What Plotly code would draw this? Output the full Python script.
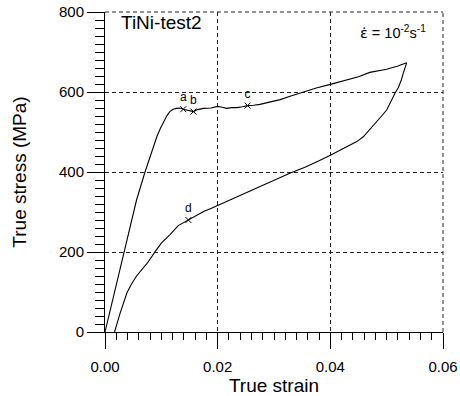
import plotly.graph_objects as go

# Loading branch (strain, stress MPa)
load_strain = [0.0, 0.0020, 0.0040, 0.0056, 0.0071, 0.0082, 0.0092, 0.0098, 0.0104, 0.0110,
               0.0115, 0.0121, 0.0127, 0.0133, 0.0139, 0.0146, 0.0152, 0.0157, 0.0164, 0.0175,
               0.0188, 0.0200, 0.0208, 0.0216, 0.0225, 0.0234, 0.0244, 0.0253, 0.0264, 0.0275,
               0.0290, 0.0311, 0.0330, 0.0351, 0.0375, 0.0400, 0.0425, 0.0450, 0.0470, 0.0500,
               0.0520, 0.05355]
load_stress = [0, 117, 234, 330, 400, 448, 488, 508, 526, 541,
               551, 557, 559, 560, 557, 554, 552, 551, 556, 559,
               560, 564, 562, 559, 561, 561, 563, 566, 567, 569,
               574, 581, 590, 600, 610, 619, 628, 638, 649, 657,
               665, 673]

# Unloading branch
unload_strain = [0.05355, 0.0532, 0.05295, 0.0526, 0.0521, 0.05148, 0.0508, 0.0500, 0.0491, 0.04823,
                 0.0470, 0.04585, 0.0447, 0.0435, 0.0420, 0.0400, 0.0380, 0.0355, 0.0328, 0.0300,
                 0.0275, 0.0250, 0.0225, 0.0200, 0.0188, 0.0175, 0.0160, 0.0148, 0.0140, 0.0130,
                 0.0115, 0.0100, 0.0089, 0.0075, 0.0056, 0.0047, 0.0039, 0.0033, 0.0027, 0.0022,
                 0.0017]
unload_stress = [673, 660, 647, 630, 612, 597, 576, 555, 540, 526,
                 507, 488, 476, 467, 455, 442, 428, 412, 397, 379,
                 364, 348, 332, 316, 309, 301, 290, 280, 275, 266,
                 243, 222, 201, 172, 140, 120, 98, 75, 48, 24,
                 0]

# Marked points
mark_labels = ["a", "b", "c", "d"]
mark_strain = [0.0139, 0.0157, 0.0253, 0.0148]
mark_stress = [557, 551, 566, 280]

X_RANGE = [0, 0.06]
Y_RANGE = [0, 800]

FONT = "Liberation Sans, Arial, sans-serif"
GRID = dict(color="#222", width=1, dash="4px,3px")

fig = go.Figure()
fig.add_trace(go.Scatter(x=load_strain, y=load_stress, mode="lines",
                         line=dict(color="black", width=1.1), showlegend=False))
fig.add_trace(go.Scatter(x=unload_strain, y=unload_stress, mode="lines",
                         line=dict(color="black", width=1.1), showlegend=False))
fig.add_trace(go.Scatter(x=mark_strain, y=mark_stress, mode="markers+text",
                         text=mark_labels, textposition="top center",
                         textfont=dict(family=FONT, size=12, color="black"),
                         marker=dict(symbol="x-thin", size=6, line=dict(color="black", width=1)),
                         showlegend=False))

axis_common = dict(
    showline=True, linecolor="black", linewidth=1,
    ticks="outside", tickcolor="black", tickwidth=1,
    showgrid=True, gridcolor=GRID["color"], gridwidth=1, griddash=GRID["dash"],
    zeroline=False, automargin=False, ticklabeloverflow="allow",
    tickfont=dict(family=FONT, size=15, color="black"),
)

fig.update_xaxes(range=X_RANGE, tick0=0, dtick=0.02, tickformat=".2f", ticklen=16,
                 ticklabelstandoff=5,
                 minor=dict(dtick=0.002, ticks="outside", ticklen=7, tickcolor="black", showgrid=False),
                 title=dict(text="True strain", font=dict(family=FONT, size=19, color="black"), standoff=0),
                 **axis_common)
fig.update_yaxes(range=Y_RANGE, tick0=0, dtick=200, ticklen=17,
                 minor=dict(dtick=20, ticks="outside", ticklen=9, tickcolor="black", showgrid=False),
                 title=dict(text="True stress (MPa)", font=dict(family=FONT, size=19, color="black"), standoff=27),
                 **axis_common)

# grid lines along the top and right edges of the plot frame (plotly omits them)
fig.add_shape(type="line", xref="paper", yref="paper", x0=0, x1=1, y0=1, y1=1, line=GRID)
fig.add_shape(type="line", xref="paper", yref="paper", x0=1, x1=1, y0=0, y1=1, line=GRID)

fig.add_annotation(x=0, y=1, xref="paper", yref="paper", xanchor="left", yanchor="top",
                   xshift=14, yshift=2, text="TiNi-test2", showarrow=False,
                   font=dict(family=FONT, size=19, color="black"))
fig.add_annotation(x=1, y=1, xref="paper", yref="paper", xanchor="right", yanchor="top",
                   xshift=-15, yshift=-9,
                   text="<span style='font-family:DejaVu Sans'>ε̇</span> = 10<sup>-2</sup>s<sup>-1</sup>",
                   showarrow=False, font=dict(family=FONT, size=14.5, color="black"))

fig.update_layout(width=460, height=396, margin=dict(l=105, r=17, t=12, b=64),
                  plot_bgcolor="white", paper_bgcolor="white")

# remove the default page margin so the figure fills the 460x396 window
fig.write_html("out.html", config={"displayModeBar": False},
               post_script="document.body.style.margin='0px';")
